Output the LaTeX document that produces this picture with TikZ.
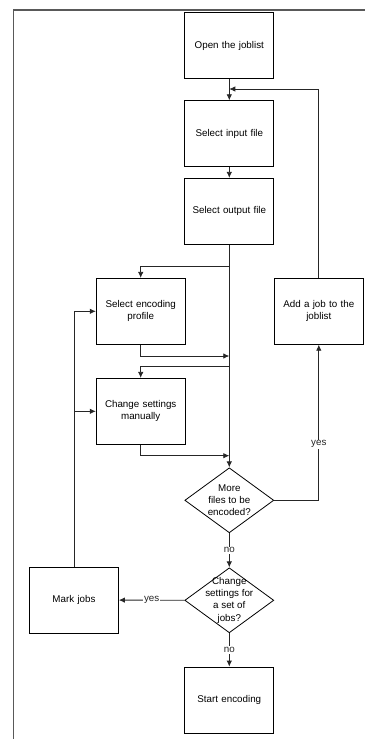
\documentclass[tikz,border=0pt]{standalone}
\usepackage{fontspec}
\setmainfont{Liberation Sans}
\usetikzlibrary{arrows.meta, shapes.geometric}

\begin{document}
\begin{tikzpicture}[x=1pt, y=-1pt,
    every node/.style={font=\fontsize{9.8}{12.3}\selectfont},
    stepbox/.style={draw, line width=0.8pt, minimum width=89pt, minimum height=66pt,
      inner sep=2pt, align=center, text width=82pt},
    choice/.style={draw, diamond, line width=0.8pt, minimum width=89pt, minimum height=65pt,
      inner sep=-10pt, align=center},
    arr/.style={-{Latex[length=6pt, width=5.5pt]}, line width=0.8pt, black!85},
    lbl/.style={fill=white, inner sep=1pt}]
  \useasboundingbox (0,0) rectangle (365,739);
  % frame of the page
  \draw[black!65, line width=1.1pt] (13.7,739) -- (13.7,10) -- (365,10);
  % main column
  \node[stepbox] (open)   at (229.3,45.7)  {Open the joblist};
  \node[stepbox] (input)  at (229.3,133.7) {Select input file};
  \node[stepbox] (output) at (229.3,211.3) {Select output file};
  \node[stepbox] (enc)    at (140.7,311.3) {Select encoding\\profile};
  \node[stepbox] (chg)    at (140.7,411.3) {Change settings\\manually};
  \node[stepbox] (add)    at (318.8,311.3) {Add a job to the\\joblist};
  \node[choice]  (more)   at (229.3,500.3) {More\\files to be\\encoded?};
  \node[choice]  (set)    at (229.3,600.3) {Change\\settings for\\a set of\\jobs?};
  \node[stepbox] (mark)   at (74,600)      {Mark jobs};
  \node[stepbox] (start)  at (229.3,700)   {Start encoding};
  % junctions on the trunk
  \coordinate (back) at (229.3,89);
  \coordinate (br1)  at (229.3,266.7);
  \coordinate (in1)  at (229.3,356);
  \coordinate (br2)  at (229.3,366.7);
  \coordinate (in2)  at (229.3,455.7);
  \draw[arr] (open) -- (input);
  \draw[arr] (input) -- (output);
  \draw[arr] (output) -- (more);
  \draw[arr] (br1) -| (enc.north);
  \draw[arr] (enc.south) |- (in1);
  \draw[arr] (br2) -| (chg.north);
  \draw[arr] (chg.south) |- (in2);
  % loop back for the next file
  \draw[arr] (more.east) -| node[lbl, pos=0.68] {yes} (add.south);
  \draw[arr] (add.north) |- (back);
  \draw[arr] (more) -- node[lbl] {no} (set);
  \draw[arr] (set) -- node[lbl] {yes} (mark);
  \draw[arr] (set) -- node[lbl] {no} (start);
  % marked jobs go back to the settings
  \draw[arr] (mark.north) |- (enc.west);
  \draw[arr] (mark.north |- chg.west) -- (chg.west);
\end{tikzpicture}
\end{document}
